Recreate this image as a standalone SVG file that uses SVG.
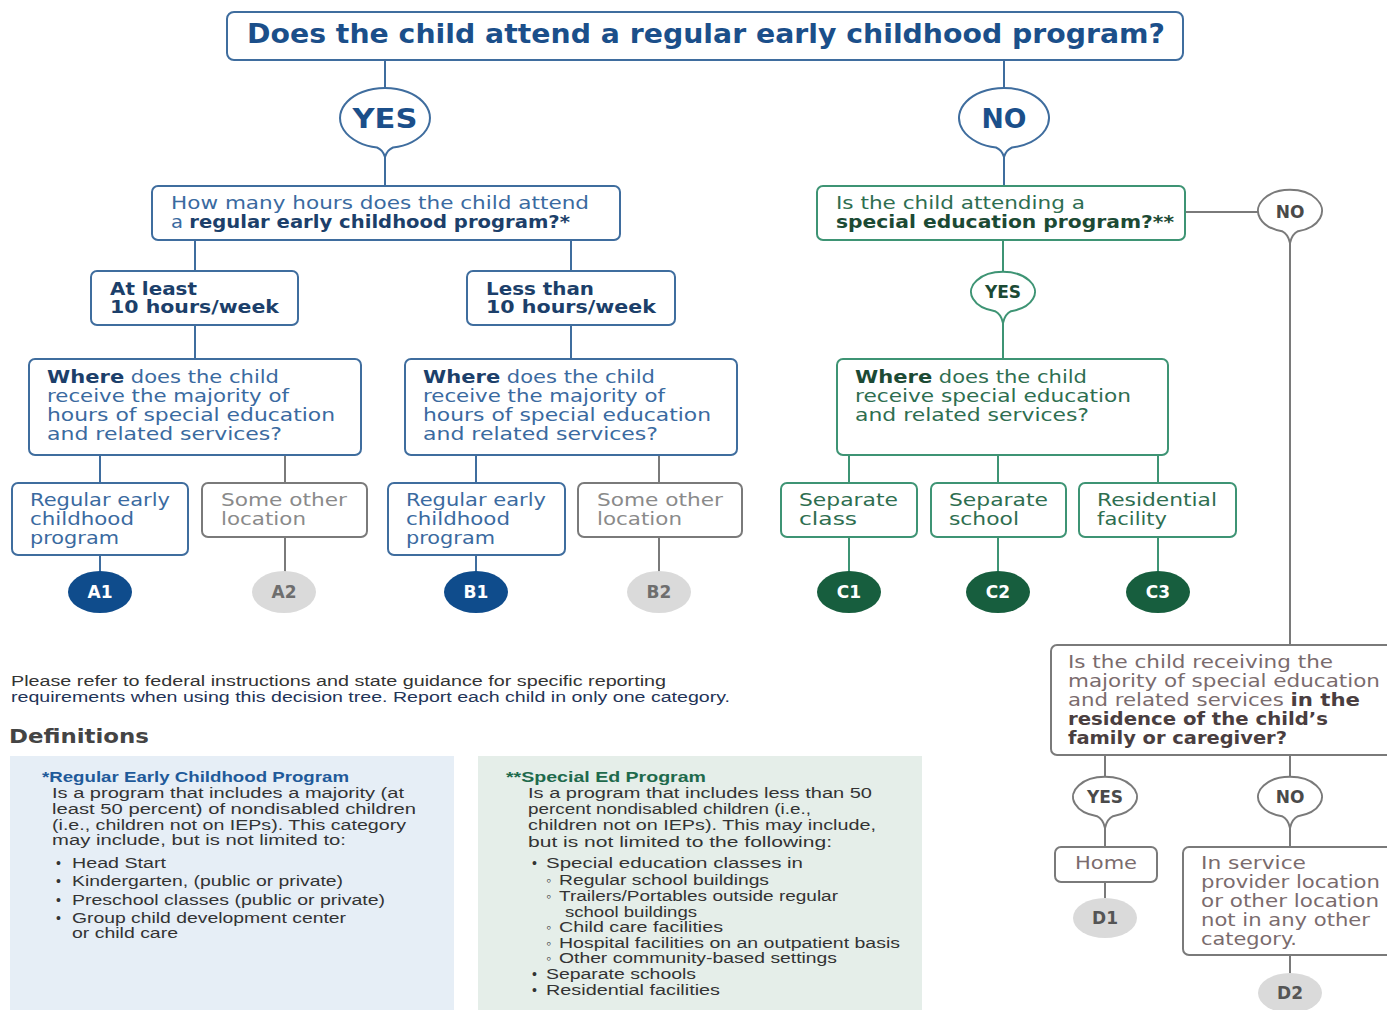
<svg xmlns="http://www.w3.org/2000/svg" width="1387" height="1010" viewBox="0 0 1387 1010">
<style>
text{font-family:"DejaVu Sans","Liberation Sans",sans-serif;}
.t{font-size:17px;}
.b{font-weight:bold;}
.bx{fill:#fff;stroke-width:2;}
.blue{stroke:#3f6d9e;}
.green{stroke:#3e9474;}
.gray{stroke:#7a7a7a;}
.ln{fill:none;stroke-width:2;}
.tb{fill:#3a6aa0;}
.tbd{fill:#1c3f6a;}
.tg{fill:#2e6e50;}
.tgd{fill:#1c4a34;}
.tgr{fill:#8a8a8a;}
.tp{fill:#7a6b6d;}
.tpd{fill:#4a3e40;}
.bub{fill:#fff;stroke-width:2;}
.lbl{font-weight:bold;text-anchor:middle;}
.def{font-family:"Liberation Sans",sans-serif;font-size:14px;fill:#333;}
</style>

<g id="connectors">
  <path class="ln blue" d="M385 60V88M385 157V186M1004 60V88M1004 157V186"/>
  <path class="ln blue" d="M195 240V271M571 240V271M195 325V359M571 325V359"/>
  <path class="ln blue" d="M100 455V483M100 555V572M476 455V483M476 555V572"/>
  <path class="ln gray" d="M285 455V483M285 537V572M659 455V483M659 537V572"/>
  <path class="ln green" d="M1003 240V272M1003 323V359M849 455V483M998 455V483M1158 455V483M849 537V572M998 537V572M1158 537V572"/>
  <path class="ln gray" d="M1185 212H1258M1290 243V645M1105 755V777M1105 828V847M1105 882V898M1290 755V777M1290 828V847M1290 955V973"/>
</g>

<g id="title">
  <rect class="bx blue" x="227" y="12" width="956" height="48" rx="7"/>
  <text x="247" y="43" font-size="26" class="b" fill="#1b4f8a" textLength="918" lengthAdjust="spacingAndGlyphs">Does the child attend a regular early childhood program?</text>
</g>

<g id="yes1">
  <path class="bub blue" d="M377 147.5A45 30 0 1 1 393 147.5Q387 150 385 157Q383 150 377 147.5Z"/>
  <text x="385" y="128" font-size="26" class="lbl" fill="#1b4f8a" textLength="65" lengthAdjust="spacingAndGlyphs">YES</text>
</g>
<g id="no1">
  <path class="bub blue" d="M996 147.5A45 30 0 1 1 1012 147.5Q1006 150 1004 157Q1002 150 996 147.5Z"/>
  <text x="1004" y="128" font-size="26" class="lbl" fill="#1b4f8a" textLength="45" lengthAdjust="spacingAndGlyphs">NO</text>
</g>

<g id="hours">
  <rect class="bx blue" x="152" y="186" width="468" height="54" rx="6"/>
  <text x="171" y="209" class="t tb" textLength="418" lengthAdjust="spacingAndGlyphs">How many hours does the child attend</text>
  <text x="171" y="228" class="t tb" textLength="399" lengthAdjust="spacingAndGlyphs">a <tspan class="b tbd">regular early childhood program?*</tspan></text>
</g>

<g id="atleast">
  <rect class="bx blue" x="91" y="271" width="207" height="54" rx="6"/>
  <text x="110" y="295" class="t b tbd" textLength="87" lengthAdjust="spacingAndGlyphs">At least</text>
  <text x="110" y="313" class="t b tbd" textLength="169" lengthAdjust="spacingAndGlyphs">10 hours/week</text>
</g>
<g id="lessthan">
  <rect class="bx blue" x="467" y="271" width="208" height="54" rx="6"/>
  <text x="486" y="295" class="t b tbd" textLength="108" lengthAdjust="spacingAndGlyphs">Less than</text>
  <text x="486" y="313" class="t b tbd" textLength="170" lengthAdjust="spacingAndGlyphs">10 hours/week</text>
</g>

<g id="whereA">
  <rect class="bx blue" x="29" y="359" width="332" height="96" rx="6"/>
  <text x="47" y="383" class="t tb" textLength="232" lengthAdjust="spacingAndGlyphs"><tspan class="b tbd">Where</tspan> does the child</text>
  <text x="47" y="402" class="t tb" textLength="242" lengthAdjust="spacingAndGlyphs">receive the majority of</text>
  <text x="47" y="421" class="t tb" textLength="288" lengthAdjust="spacingAndGlyphs">hours of special education</text>
  <text x="47" y="440" class="t tb" textLength="235" lengthAdjust="spacingAndGlyphs">and related services?</text>
</g>
<g id="whereB">
  <rect class="bx blue" x="405" y="359" width="332" height="96" rx="6"/>
  <text x="423" y="383" class="t tb" textLength="232" lengthAdjust="spacingAndGlyphs"><tspan class="b tbd">Where</tspan> does the child</text>
  <text x="423" y="402" class="t tb" textLength="242" lengthAdjust="spacingAndGlyphs">receive the majority of</text>
  <text x="423" y="421" class="t tb" textLength="288" lengthAdjust="spacingAndGlyphs">hours of special education</text>
  <text x="423" y="440" class="t tb" textLength="235" lengthAdjust="spacingAndGlyphs">and related services?</text>
</g>

<g id="regA">
  <rect class="bx blue" x="12" y="483" width="176" height="72" rx="6"/>
  <text x="30" y="506" class="t tb" textLength="140" lengthAdjust="spacingAndGlyphs">Regular early</text>
  <text x="30" y="525" class="t tb" textLength="104" lengthAdjust="spacingAndGlyphs">childhood</text>
  <text x="30" y="544" class="t tb" textLength="89" lengthAdjust="spacingAndGlyphs">program</text>
</g>
<g id="otherA">
  <rect class="bx gray" x="202" y="483" width="165" height="54" rx="6"/>
  <text x="221" y="506" class="t tgr" textLength="126" lengthAdjust="spacingAndGlyphs">Some other</text>
  <text x="221" y="525" class="t tgr" textLength="85" lengthAdjust="spacingAndGlyphs">location</text>
</g>
<g id="regB">
  <rect class="bx blue" x="388" y="483" width="177" height="72" rx="6"/>
  <text x="406" y="506" class="t tb" textLength="140" lengthAdjust="spacingAndGlyphs">Regular early</text>
  <text x="406" y="525" class="t tb" textLength="104" lengthAdjust="spacingAndGlyphs">childhood</text>
  <text x="406" y="544" class="t tb" textLength="89" lengthAdjust="spacingAndGlyphs">program</text>
</g>
<g id="otherB">
  <rect class="bx gray" x="578" y="483" width="164" height="54" rx="6"/>
  <text x="597" y="506" class="t tgr" textLength="126" lengthAdjust="spacingAndGlyphs">Some other</text>
  <text x="597" y="525" class="t tgr" textLength="85" lengthAdjust="spacingAndGlyphs">location</text>
</g>

<g id="A1"><ellipse cx="100" cy="592" rx="32" ry="21" fill="#0f4c8c"/><text x="100" y="598" font-size="17" class="lbl" fill="#fff">A1</text></g>
<g id="A2"><ellipse cx="284" cy="592" rx="32" ry="21" fill="#dadada"/><text x="284" y="598" font-size="17" class="lbl" fill="#6e6e6e">A2</text></g>
<g id="B1"><ellipse cx="476" cy="592" rx="32" ry="21" fill="#0f4c8c"/><text x="476" y="598" font-size="17" class="lbl" fill="#fff">B1</text></g>
<g id="B2"><ellipse cx="659" cy="592" rx="32" ry="21" fill="#dadada"/><text x="659" y="598" font-size="17" class="lbl" fill="#6e6e6e">B2</text></g>

<g id="specialQ">
  <rect class="bx green" x="817" y="186" width="368" height="54" rx="6"/>
  <text x="836" y="209" class="t tg" textLength="249" lengthAdjust="spacingAndGlyphs">Is the child attending a</text>
  <text x="836" y="228" class="t b tgd" textLength="338" lengthAdjust="spacingAndGlyphs">special education program?**</text>
</g>

<g id="no2">
  <path class="bub gray" d="M1282 231.2A32 21 0 1 1 1298 231.2Q1292 234 1290 243Q1288 234 1282 231.2Z"/>
  <text x="1290" y="218" font-size="17" class="lbl" fill="#4a4a4a">NO</text>
</g>
<g id="yes2">
  <path class="bub green" d="M995 311.2A32 20 0 1 1 1011 311.2Q1005 314 1003 323Q1001 314 995 311.2Z"/>
  <text x="1003" y="298" font-size="17" class="lbl" fill="#1c4a34">YES</text>
</g>

<g id="whereC">
  <rect class="bx green" x="837" y="359" width="331" height="96" rx="6"/>
  <text x="855" y="383" class="t tg" textLength="232" lengthAdjust="spacingAndGlyphs"><tspan class="b tgd">Where</tspan> does the child</text>
  <text x="855" y="402" class="t tg" textLength="276" lengthAdjust="spacingAndGlyphs">receive special education</text>
  <text x="855" y="421" class="t tg" textLength="234" lengthAdjust="spacingAndGlyphs">and related services?</text>
</g>

<g id="sepclass">
  <rect class="bx green" x="781" y="483" width="136" height="54" rx="6"/>
  <text x="799" y="506" class="t tg" textLength="99" lengthAdjust="spacingAndGlyphs">Separate</text>
  <text x="799" y="525" class="t tg" textLength="58" lengthAdjust="spacingAndGlyphs">class</text>
</g>
<g id="sepschool">
  <rect class="bx green" x="931" y="483" width="135" height="54" rx="6"/>
  <text x="949" y="506" class="t tg" textLength="99" lengthAdjust="spacingAndGlyphs">Separate</text>
  <text x="949" y="525" class="t tg" textLength="70" lengthAdjust="spacingAndGlyphs">school</text>
</g>
<g id="resfac">
  <rect class="bx green" x="1079" y="483" width="157" height="54" rx="6"/>
  <text x="1097" y="506" class="t tg" textLength="120" lengthAdjust="spacingAndGlyphs">Residential</text>
  <text x="1097" y="525" class="t tg" textLength="70" lengthAdjust="spacingAndGlyphs">facility</text>
</g>

<g id="C1"><ellipse cx="849" cy="592" rx="32" ry="21" fill="#175e3e"/><text x="849" y="598" font-size="17" class="lbl" fill="#fff">C1</text></g>
<g id="C2"><ellipse cx="998" cy="592" rx="32" ry="21" fill="#175e3e"/><text x="998" y="598" font-size="17" class="lbl" fill="#fff">C2</text></g>
<g id="C3"><ellipse cx="1158" cy="592" rx="32" ry="21" fill="#175e3e"/><text x="1158" y="598" font-size="17" class="lbl" fill="#fff">C3</text></g>

<g id="homeQ">
  <rect class="bx gray" x="1051" y="645" width="350" height="110" rx="6"/>
  <text x="1068" y="668" class="t tp" textLength="265" lengthAdjust="spacingAndGlyphs">Is the child receiving the</text>
  <text x="1068" y="687" class="t tp" textLength="312" lengthAdjust="spacingAndGlyphs">majority of special education</text>
  <text x="1068" y="706" class="t tp" textLength="292" lengthAdjust="spacingAndGlyphs">and related services <tspan class="b tpd">in the</tspan></text>
  <text x="1068" y="725" class="t b tpd" textLength="260" lengthAdjust="spacingAndGlyphs">residence of the child’s</text>
  <text x="1068" y="744" class="t b tpd" textLength="219" lengthAdjust="spacingAndGlyphs">family or caregiver?</text>
</g>

<g id="yes3">
  <path class="bub gray" d="M1097 816.2A32 20 0 1 1 1113 816.2Q1107 819 1105 828Q1103 819 1097 816.2Z"/>
  <text x="1105" y="803" font-size="17" class="lbl" fill="#4a4a4a">YES</text>
</g>
<g id="no3">
  <path class="bub gray" d="M1282 816.2A32 20 0 1 1 1298 816.2Q1292 819 1290 828Q1288 819 1282 816.2Z"/>
  <text x="1290" y="803" font-size="17" class="lbl" fill="#4a4a4a">NO</text>
</g>

<g id="home">
  <rect class="bx gray" x="1055" y="847" width="102" height="35" rx="6"/>
  <text x="1075" y="869" class="t tp" textLength="62" lengthAdjust="spacingAndGlyphs">Home</text>
</g>
<g id="other">
  <rect class="bx gray" x="1183" y="847" width="218" height="108" rx="6"/>
  <text x="1201" y="869" class="t tp" textLength="105" lengthAdjust="spacingAndGlyphs">In service</text>
  <text x="1201" y="888" class="t tp" textLength="179" lengthAdjust="spacingAndGlyphs">provider location</text>
  <text x="1201" y="907" class="t tp" textLength="178" lengthAdjust="spacingAndGlyphs">or other location</text>
  <text x="1201" y="926" class="t tp" textLength="169" lengthAdjust="spacingAndGlyphs">not in any other</text>
  <text x="1201" y="945" class="t tp" textLength="96" lengthAdjust="spacingAndGlyphs">category.</text>
</g>

<g id="D1"><ellipse cx="1105" cy="918" rx="32" ry="20" fill="#dadada"/><text x="1105" y="924" font-size="17" class="lbl" fill="#555">D1</text></g>
<g id="D2"><ellipse cx="1290" cy="993" rx="32" ry="20" fill="#dadada"/><text x="1290" y="999" font-size="17" class="lbl" fill="#555">D2</text></g>

<g id="note">
  <text x="11" y="686" class="def" fill="#222" textLength="655" lengthAdjust="spacingAndGlyphs">Please refer to federal instructions and state guidance for specific reporting</text>
  <text x="11" y="702" class="def" style="fill:#1f3458" textLength="719" lengthAdjust="spacingAndGlyphs">requirements when using this decision tree. Report each child in only one category.</text>
  <text x="9" y="743" font-family="Liberation Sans" font-size="20" font-weight="bold" fill="#444" textLength="140" lengthAdjust="spacingAndGlyphs">Definitions</text>
</g>

<g id="defRegular">
  <rect x="10" y="756" width="444" height="254" fill="#e6eef6"/>
  <text x="42" y="782" class="def" style="fill:#1f5a9a;font-weight:bold" textLength="307" lengthAdjust="spacingAndGlyphs">*Regular Early Childhood Program</text>
  <text x="52" y="798" class="def" textLength="352" lengthAdjust="spacingAndGlyphs">Is a program that includes a majority (at</text>
  <text x="52" y="814" class="def" textLength="364" lengthAdjust="spacingAndGlyphs">least 50 percent) of nondisabled children</text>
  <text x="52" y="830" class="def" textLength="354" lengthAdjust="spacingAndGlyphs">(i.e., children not on IEPs). This category</text>
  <text x="52" y="845" class="def" textLength="294" lengthAdjust="spacingAndGlyphs">may include, but is not limited to:</text>
  <text x="56" y="868" class="def">•</text><text x="72" y="868" class="def" textLength="94" lengthAdjust="spacingAndGlyphs">Head Start</text>
  <text x="56" y="886" class="def">•</text><text x="72" y="886" class="def" textLength="271" lengthAdjust="spacingAndGlyphs">Kindergarten, (public or private)</text>
  <text x="56" y="905" class="def">•</text><text x="72" y="905" class="def" textLength="313" lengthAdjust="spacingAndGlyphs">Preschool classes (public or private)</text>
  <text x="56" y="923" class="def">•</text><text x="72" y="923" class="def" textLength="274" lengthAdjust="spacingAndGlyphs">Group child development center</text>
  <text x="72" y="938" class="def" textLength="106" lengthAdjust="spacingAndGlyphs">or child care</text>
</g>

<g id="defSpecial">
  <rect x="478" y="756" width="444" height="254" fill="#e5eee9"/>
  <text x="506" y="782" class="def" style="fill:#1e6a4c;font-weight:bold" textLength="200" lengthAdjust="spacingAndGlyphs">**Special Ed Program</text>
  <text x="528" y="798" class="def" textLength="344" lengthAdjust="spacingAndGlyphs">Is a program that includes less than 50</text>
  <text x="528" y="814" class="def" textLength="283" lengthAdjust="spacingAndGlyphs">percent nondisabled children (i.e.,</text>
  <text x="528" y="830" class="def" textLength="348" lengthAdjust="spacingAndGlyphs">children not on IEPs). This may include,</text>
  <text x="528" y="847" class="def" textLength="304" lengthAdjust="spacingAndGlyphs">but is not limited to the following:</text>
  <text x="532" y="868" class="def">•</text><text x="546" y="868" class="def" textLength="257" lengthAdjust="spacingAndGlyphs">Special education classes in</text>
  <text x="546" y="885" class="def" font-size="11">◦</text><text x="559" y="885" class="def" textLength="210" lengthAdjust="spacingAndGlyphs">Regular school buildings</text>
  <text x="546" y="901" class="def" font-size="11">◦</text><text x="559" y="901" class="def" textLength="279" lengthAdjust="spacingAndGlyphs">Trailers/Portables outside regular</text>
  <text x="565" y="917" class="def" textLength="132" lengthAdjust="spacingAndGlyphs">school buildings</text>
  <text x="546" y="932" class="def" font-size="11">◦</text><text x="559" y="932" class="def" textLength="164" lengthAdjust="spacingAndGlyphs">Child care facilities</text>
  <text x="546" y="948" class="def" font-size="11">◦</text><text x="559" y="948" class="def" textLength="341" lengthAdjust="spacingAndGlyphs">Hospital facilities on an outpatient basis</text>
  <text x="546" y="963" class="def" font-size="11">◦</text><text x="559" y="963" class="def" textLength="278" lengthAdjust="spacingAndGlyphs">Other community-based settings</text>
  <text x="532" y="979" class="def">•</text><text x="546" y="979" class="def" textLength="150" lengthAdjust="spacingAndGlyphs">Separate schools</text>
  <text x="532" y="995" class="def">•</text><text x="546" y="995" class="def" textLength="174" lengthAdjust="spacingAndGlyphs">Residential facilities</text>
</g>
</svg>
